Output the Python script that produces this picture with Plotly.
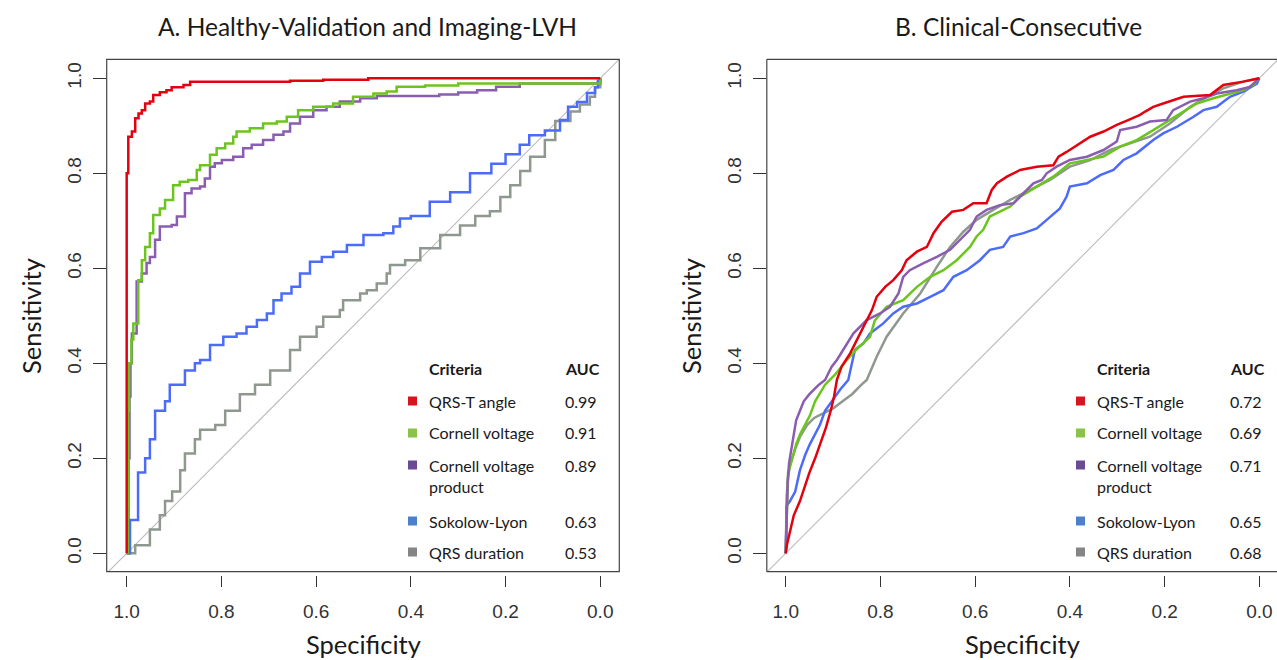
import plotly.graph_objects as go

W, H = 1277, 660

# ---------------- data ----------------
tick_values = [0.0, 0.2, 0.4, 0.6, 0.8, 1.0]
tick_labels = ["0.0", "0.2", "0.4", "0.6", "0.8", "1.0"]
# chance line: sensitivity = 1 - specificity
reference_spec = [1.05, -0.05]
reference_sens = [-0.05, 1.05]

criteria = ["QRS-T angle", "Cornell voltage", "Cornell voltage<br>product", "Sokolow-Lyon", "QRS duration"]
auc_a = ["0.99", "0.91", "0.89", "0.63", "0.53"]
auc_b = ["0.72", "0.69", "0.71", "0.65", "0.68"]

# Panel A: Healthy-Validation and Imaging-LVH
a_red_spec = [1.0, 1.0, 0.9966, 0.989, 0.982, 0.975, 0.968, 0.961, 0.951, 0.944, 0.930, 0.916, 0.905, 0.880, 0.866, 0.655, 0.585, 0.49, 0.0]
a_red_sens = [0.0, 0.80, 0.877, 0.888, 0.916, 0.926, 0.933, 0.947, 0.951, 0.965, 0.9705, 0.975, 0.981, 0.986, 0.993, 0.995, 0.997, 1.0, 1.0]

a_green_spec = [1.0, 0.998, 0.997, 0.995, 0.990, 0.986, 0.9755, 0.968, 0.961, 0.951, 0.944, 0.930, 0.919, 0.902, 0.888, 0.870, 0.852, 0.845, 0.824, 0.810, 0.792, 0.775, 0.768, 0.740, 0.712, 0.683, 0.662, 0.638, 0.606, 0.564, 0.522, 0.479, 0.451, 0.430, 0.37, 0.30, 0.015, 0.0]
a_green_sens = [0.0, 0.10, 0.30, 0.40, 0.45, 0.484, 0.575, 0.617, 0.645, 0.674, 0.712, 0.726, 0.744, 0.775, 0.782, 0.786, 0.807, 0.817, 0.839, 0.853, 0.863, 0.877, 0.888, 0.895, 0.905, 0.909, 0.919, 0.933, 0.940, 0.947, 0.961, 0.968, 0.972, 0.982, 0.985, 0.989, 0.989, 1.0]

a_purple_spec = [1.0, 0.996, 0.994, 0.992, 0.989, 0.979, 0.968, 0.958, 0.951, 0.940, 0.930, 0.905, 0.894, 0.877, 0.863, 0.845, 0.835, 0.824, 0.814, 0.799, 0.775, 0.754, 0.736, 0.712, 0.690, 0.669, 0.655, 0.634, 0.606, 0.578, 0.550, 0.507, 0.472, 0.423, 0.34, 0.30, 0.26, 0.22, 0.17, 0.015, 0.0]
a_purple_sens = [0.0, 0.20, 0.33, 0.40, 0.463, 0.572, 0.589, 0.611, 0.624, 0.660, 0.688, 0.691, 0.709, 0.758, 0.768, 0.772, 0.789, 0.814, 0.821, 0.828, 0.835, 0.853, 0.860, 0.870, 0.881, 0.888, 0.905, 0.919, 0.933, 0.940, 0.951, 0.958, 0.963, 0.963, 0.966, 0.970, 0.975, 0.982, 0.989, 0.989, 1.0]

a_blue_spec = [1.0, 0.993, 0.976, 0.961, 0.951, 0.940, 0.919, 0.909, 0.877, 0.856, 0.845, 0.824, 0.796, 0.768, 0.747, 0.725, 0.704, 0.690, 0.673, 0.652, 0.634, 0.613, 0.588, 0.564, 0.535, 0.500, 0.458, 0.437, 0.423, 0.40, 0.36, 0.317, 0.275, 0.23, 0.20, 0.17, 0.15, 0.117, 0.085, 0.068, 0.049, 0.028, 0.011, 0.005, 0.0]
a_blue_sens = [0.0, 0.07, 0.17, 0.20, 0.24, 0.30, 0.32, 0.355, 0.385, 0.40, 0.407, 0.4385, 0.456, 0.463, 0.477, 0.491, 0.505, 0.533, 0.547, 0.561, 0.589, 0.614, 0.624, 0.635, 0.649, 0.670, 0.674, 0.688, 0.705, 0.71, 0.74, 0.76, 0.80, 0.82, 0.84, 0.86, 0.88, 0.89, 0.912, 0.94, 0.95, 0.969, 0.981, 0.995, 1.0]

a_grey_spec = [1.0, 0.982, 0.951, 0.93, 0.919, 0.904, 0.887, 0.877, 0.856, 0.845, 0.813, 0.792, 0.761, 0.729, 0.697, 0.655, 0.634, 0.599, 0.585, 0.55, 0.543, 0.507, 0.493, 0.472, 0.451, 0.444, 0.412, 0.38, 0.338, 0.296, 0.264, 0.233, 0.211, 0.19, 0.169, 0.148, 0.117, 0.095, 0.063, 0.043, 0.022, 0.011, 0.0]
a_grey_sens = [0.0, 0.017, 0.05, 0.08, 0.11, 0.13, 0.175, 0.21, 0.24, 0.26, 0.27, 0.30, 0.335, 0.355, 0.385, 0.428, 0.456, 0.477, 0.498, 0.512, 0.533, 0.547, 0.554, 0.568, 0.589, 0.607, 0.617, 0.642, 0.67, 0.69, 0.71, 0.72, 0.75, 0.775, 0.805, 0.835, 0.87, 0.91, 0.93, 0.945, 0.961, 0.981, 1.0]

# Panel B: Clinical-Consecutive
b_red_spec = [1.0, 0.997, 0.99, 0.983, 0.97, 0.96, 0.95, 0.938, 0.925, 0.915, 0.905, 0.898, 0.892, 0.882, 0.864, 0.850, 0.833, 0.818, 0.808, 0.790, 0.773, 0.755, 0.745, 0.723, 0.702, 0.688, 0.671, 0.649, 0.625, 0.604, 0.576, 0.565, 0.554, 0.533, 0.505, 0.470, 0.435, 0.424, 0.407, 0.379, 0.357, 0.329, 0.301, 0.277, 0.252, 0.241, 0.224, 0.203, 0.160, 0.104, 0.076, 0.034, 0.005, 0.0]
b_red_sens = [0.0, 0.02, 0.05, 0.08, 0.11, 0.14, 0.17, 0.20, 0.235, 0.265, 0.30, 0.33, 0.365, 0.393, 0.421, 0.449, 0.484, 0.512, 0.540, 0.561, 0.575, 0.596, 0.617, 0.635, 0.645, 0.674, 0.698, 0.719, 0.723, 0.737, 0.737, 0.765, 0.779, 0.793, 0.807, 0.814, 0.817, 0.835, 0.845, 0.863, 0.877, 0.888, 0.902, 0.912, 0.923, 0.930, 0.940, 0.947, 0.961, 0.965, 0.986, 0.993, 1.0, 1.0]

b_green_spec = [1.0, 0.995, 0.987, 0.978, 0.97, 0.959, 0.949, 0.938, 0.917, 0.896, 0.871, 0.85, 0.822, 0.812, 0.787, 0.752, 0.723, 0.695, 0.667, 0.639, 0.611, 0.597, 0.583, 0.569, 0.541, 0.526, 0.505, 0.470, 0.435, 0.400, 0.329, 0.294, 0.259, 0.224, 0.189, 0.153, 0.132, 0.097, 0.062, 0.034, 0.013, 0.0]
b_green_sens = [0.0, 0.17, 0.196, 0.23, 0.25, 0.27, 0.29, 0.32, 0.355, 0.376, 0.407, 0.43, 0.456, 0.49, 0.519, 0.533, 0.561, 0.582, 0.596, 0.617, 0.645, 0.667, 0.681, 0.709, 0.723, 0.730, 0.751, 0.772, 0.793, 0.821, 0.835, 0.856, 0.870, 0.891, 0.912, 0.933, 0.947, 0.958, 0.968, 0.975, 0.986, 1.0]

b_purple_spec = [1.0, 0.998, 0.996, 0.993, 0.988, 0.983, 0.978, 0.97, 0.962, 0.95, 0.94, 0.93, 0.917, 0.903, 0.892, 0.875, 0.857, 0.829, 0.801, 0.780, 0.762, 0.752, 0.738, 0.709, 0.681, 0.653, 0.632, 0.611, 0.597, 0.576, 0.548, 0.519, 0.498, 0.477, 0.459, 0.449, 0.428, 0.400, 0.364, 0.329, 0.301, 0.294, 0.259, 0.231, 0.196, 0.182, 0.146, 0.118, 0.090, 0.048, 0.020, 0.0]
b_purple_sens = [0.0, 0.10, 0.15, 0.19, 0.22, 0.25, 0.28, 0.30, 0.32, 0.335, 0.345, 0.355, 0.365, 0.393, 0.407, 0.435, 0.463, 0.491, 0.505, 0.519, 0.547, 0.582, 0.596, 0.611, 0.624, 0.639, 0.660, 0.681, 0.709, 0.723, 0.733, 0.737, 0.758, 0.779, 0.786, 0.800, 0.814, 0.828, 0.835, 0.849, 0.867, 0.891, 0.898, 0.909, 0.912, 0.933, 0.951, 0.958, 0.968, 0.975, 0.982, 1.0]

b_blue_spec = [1.0, 0.998, 0.991, 0.980, 0.970, 0.959, 0.949, 0.938, 0.928, 0.917, 0.902, 0.885, 0.868, 0.854, 0.836, 0.822, 0.794, 0.773, 0.752, 0.723, 0.695, 0.667, 0.646, 0.618, 0.590, 0.569, 0.541, 0.526, 0.498, 0.470, 0.449, 0.421, 0.407, 0.400, 0.364, 0.336, 0.308, 0.287, 0.259, 0.224, 0.203, 0.174, 0.139, 0.118, 0.090, 0.062, 0.034, 0.005, 0.0]
b_blue_sens = [0.0, 0.10, 0.11, 0.13, 0.175, 0.207, 0.23, 0.25, 0.27, 0.30, 0.32, 0.345, 0.365, 0.428, 0.442, 0.463, 0.484, 0.505, 0.519, 0.526, 0.540, 0.554, 0.582, 0.596, 0.617, 0.639, 0.645, 0.667, 0.674, 0.684, 0.702, 0.726, 0.751, 0.772, 0.779, 0.796, 0.807, 0.828, 0.842, 0.870, 0.884, 0.898, 0.919, 0.933, 0.940, 0.961, 0.972, 0.989, 1.0]

b_grey_spec = [1.0, 0.998, 0.995, 0.99, 0.98, 0.97, 0.955, 0.94, 0.92, 0.90, 0.88, 0.86, 0.84, 0.829, 0.808, 0.787, 0.752, 0.716, 0.681, 0.653, 0.625, 0.597, 0.562, 0.526, 0.484, 0.442, 0.400, 0.357, 0.315, 0.273, 0.231, 0.189, 0.146, 0.111, 0.076, 0.034, 0.005, 0.0]
b_grey_sens = [0.0, 0.12, 0.16, 0.19, 0.22, 0.245, 0.27, 0.285, 0.295, 0.305, 0.32, 0.335, 0.355, 0.365, 0.414, 0.456, 0.505, 0.547, 0.603, 0.645, 0.677, 0.702, 0.723, 0.744, 0.765, 0.786, 0.814, 0.828, 0.849, 0.863, 0.877, 0.905, 0.940, 0.961, 0.979, 0.993, 1.0, 1.0]

# ---------------- styling ----------------
line_colors = {"red": "#E3000F", "green": "#6CC51E", "purple": "#8A5DB0", "blue": "#4D6BFA", "grey": "#8F988F"}
key_colors = ["#D7151F", "#8BC34A", "#6A4A93", "#4C7FCC", "#858585"]
TEXT_FONT = "Lato, 'Open Sans', sans-serif"
TICK_FONT = "'Liberation Sans', Arial, sans-serif"


def px(x):
    return x / W


def py(y):
    return 1 - y / H


fig = go.Figure()

panels = [
    ("x", "y", [("grey", a_grey_spec, a_grey_sens), ("blue", a_blue_spec, a_blue_sens),
                ("purple", a_purple_spec, a_purple_sens), ("green", a_green_spec, a_green_sens),
                ("red", a_red_spec, a_red_sens)], "hv"),
    ("x2", "y2", [("grey", b_grey_spec, b_grey_sens), ("blue", b_blue_spec, b_blue_sens),
                  ("green", b_green_spec, b_green_sens), ("purple", b_purple_spec, b_purple_sens),
                  ("red", b_red_spec, b_red_sens)], "linear"),
]

for xa, ya, curves, shape in panels:
    fig.add_trace(go.Scatter(x=reference_spec, y=reference_sens, mode="lines", xaxis=xa, yaxis=ya,
                             line=dict(color="#BDBDBD", width=1.1), showlegend=False, hoverinfo="skip"))
    for name, sx, sy in curves:
        fig.add_trace(go.Scatter(x=sx, y=sy, mode="lines", xaxis=xa, yaxis=ya,
                                 line=dict(color=line_colors[name], width=2.5, shape=shape),
                                 showlegend=False))

# geometry (pixels)
A_left, A_right = 106.7, 619.3
B_left, B_right = 766.8, 1277.0
top, bottom = 59.3, 571.7
y_dom = [py(bottom), py(top)]

axis_common = dict(showgrid=False, zeroline=False, showline=False, ticks="outside",
                   tickcolor="#333333", tickwidth=1,
                   tickvals=tick_values, ticktext=tick_labels,
                   tickfont=dict(family=TICK_FONT, size=19, color="#333333"))

fig.update_layout(
    width=W, height=H, autosize=False,
    margin=dict(l=0, r=0, t=0, b=0),
    paper_bgcolor="white", plot_bgcolor="white",
    xaxis=dict(domain=[px(A_left), px(A_right)], range=[1.0422, -0.0402], anchor="free",
               position=py(575), ticklen=11, ticklabelstandoff=8, **axis_common),
    yaxis=dict(domain=y_dom, range=[-0.0387, 1.04], anchor="x", ticklen=13, tickangle=-90,
               ticklabelstandoff=4, **axis_common),
    xaxis2=dict(domain=[px(B_left), 1.0], range=[1.04, -0.0373], anchor="free",
                position=py(575), ticklen=11, ticklabelstandoff=8, **axis_common),
    yaxis2=dict(domain=y_dom, range=[-0.0387, 1.04], anchor="x2", ticklen=13, tickangle=-90,
                ticklabelstandoff=4, **axis_common),
)

shapes = []
# plot boxes
shapes.append(dict(type="rect", xref="paper", yref="paper", x0=px(A_left), x1=px(A_right),
                   y0=py(bottom), y1=py(top), line=dict(color="#444444", width=1.2)))
for (x0, y0, x1, y1) in [(B_left, top, B_right, top), (B_left, top, B_left, bottom), (B_left, bottom, B_right, bottom)]:
    shapes.append(dict(type="line", xref="paper", yref="paper", x0=px(x0), x1=px(x1),
                       y0=py(y0), y1=py(y1), line=dict(color="#444444", width=1.2)))

annotations = []


def text(x, y, s, size, bold=False, anchor="left", angle=0, color="#1a1a1a", family=TEXT_FONT):
    annotations.append(dict(x=px(x), y=py(y), xref="paper", yref="paper", text=f"<b>{s}</b>" if bold else s,
                            showarrow=False, xanchor=anchor, yanchor="middle", textangle=angle,
                            font=dict(family=family, size=size, color=color), align="left"))


# titles
text(367, 27, "A. Healthy-Validation and Imaging-LVH", 24.5, anchor="center")
text(1018, 27, "B. Clinical-Consecutive", 24.5, anchor="center")
# axis titles
text(363.5, 644, "Specificity", 25.5, anchor="center")
text(1022.5, 644, "Specificity", 25.5, anchor="center")
text(31, 316, "Sensitivity", 25.5, anchor="center", angle=-90)
text(691, 316, "Sensitivity", 25.5, anchor="center", angle=-90)

# legends
row_y = [401, 433, 476, 521, 552]
for sq_x, txt_x, auc_x, aucs in [(412.5, 427, 563, auc_a), (1080.5, 1095, 1228, auc_b)]:
    text(txt_x, 368, "Criteria", 16, bold=True)
    text(auc_x, 368, "AUC", 16, bold=True)
    for i, (crit, auc) in enumerate(zip(criteria, aucs)):
        yy = row_y[i]
        text(txt_x, yy, crit, 16)
        ay = 465 if "<br>" in crit else yy
        text(auc_x, ay, auc, 16)
        shapes.append(dict(type="rect", xref="paper", yref="paper",
                           x0=px(sq_x - 4.5), x1=px(sq_x + 4.5), y0=py(ay + 4.5), y1=py(ay - 4.5),
                           fillcolor=key_colors[i], line=dict(width=0)))

fig.update_layout(shapes=shapes, annotations=annotations)
fig.write_html("out.html", config={"displayModeBar": False},
               post_script="document.body.style.margin='0';document.body.style.overflow='hidden';")
